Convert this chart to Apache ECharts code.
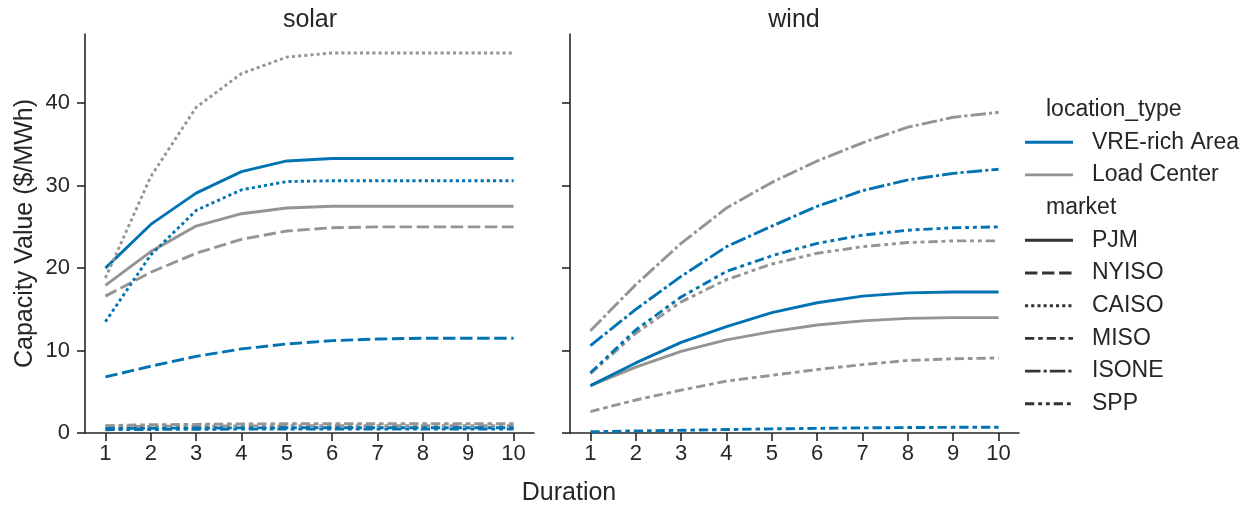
<!DOCTYPE html>
<html><head><meta charset="utf-8">
<script src="https://cdn.jsdelivr.net/npm/echarts@6/dist/echarts.min.js"></script>
<style>html,body{margin:0;padding:0;background:#fff}#c{width:1253px;height:508px}</style>
</head><body><div id="c"></div>
<script>
// ---- data ----
const durations = [1, 2, 3, 4, 5, 6, 7, 8, 9, 10];
const yTicks = [0, 10, 20, 30, 40];
const panels = ['solar', 'wind'];
const locationTypes = ['VRE-rich Area', 'Load Center'];
const markets = ['PJM', 'NYISO', 'CAISO', 'MISO', 'ISONE', 'SPP'];

// solar
const solarVrePJM   = [20.0, 25.3, 29.1, 31.7, 33.0, 33.3, 33.3, 33.3, 33.3, 33.3];
const solarLoadPJM  = [17.9, 22.0, 25.1, 26.6, 27.3, 27.5, 27.5, 27.5, 27.5, 27.5];
const solarVreNYISO = [6.8, 8.1, 9.3, 10.2, 10.8, 11.2, 11.4, 11.5, 11.5, 11.5];
const solarLoadNYISO= [16.6, 19.5, 21.8, 23.5, 24.5, 24.9, 25.0, 25.0, 25.0, 25.0];
const solarVreCAISO = [13.5, 21.6, 27.0, 29.5, 30.5, 30.6, 30.6, 30.6, 30.6, 30.6];
const solarLoadCAISO= [18.8, 31.1, 39.5, 43.6, 45.6, 46.1, 46.1, 46.1, 46.1, 46.1];
const solarVreMISO  = [0.55, 0.58, 0.6, 0.62, 0.63, 0.64, 0.64, 0.64, 0.64, 0.64];
const solarLoadMISO = [0.9, 1.0, 1.05, 1.1, 1.12, 1.13, 1.13, 1.13, 1.13, 1.13];
const solarVreSPP   = [0.4, 0.43, 0.45, 0.47, 0.48, 0.48, 0.48, 0.48, 0.48, 0.48];
const solarLoadSPP  = [0.75, 0.8, 0.84, 0.86, 0.87, 0.88, 0.88, 0.88, 0.88, 0.88];
// wind
const windVrePJM    = [5.75, 8.5, 11.0, 12.9, 14.6, 15.8, 16.6, 17.0, 17.1, 17.1];
const windLoadPJM   = [5.75, 8.0, 9.9, 11.3, 12.3, 13.1, 13.6, 13.9, 14.0, 14.0];
const windVreMISO   = [0.15, 0.25, 0.33, 0.42, 0.5, 0.56, 0.62, 0.66, 0.69, 0.7];
const windLoadMISO  = [2.6, 4.0, 5.2, 6.3, 7.0, 7.7, 8.3, 8.8, 9.0, 9.1];
const windVreISONE  = [10.6, 15.0, 19.0, 22.6, 25.1, 27.5, 29.4, 30.7, 31.5, 32.0];
const windLoadISONE = [12.4, 18.0, 23.0, 27.3, 30.4, 33.0, 35.2, 37.1, 38.3, 38.9];
const windVreSPP    = [7.3, 12.5, 16.5, 19.6, 21.5, 23.0, 24.0, 24.6, 24.9, 25.0];
const windLoadSPP   = [7.2, 12.1, 15.9, 18.6, 20.5, 21.8, 22.6, 23.1, 23.3, 23.3];

// ---- styling ----
const FONT = 'Liberation Sans, Arial, sans-serif';
const TXT = '#262626';
const colors = { 'VRE-rich Area': '#0173B2', 'Load Center': '#949494' };
const LW = 2.9, U = 3.1;
const dashUnits = {
  PJM: null,
  NYISO: [4, 1.5],
  CAISO: [1, 1],
  MISO: [3, 1.25, 1.5, 1.25],
  ISONE: [5, 1, 1, 1],
  SPP: [3, 1.25, 1.25, 1.25, 1.25, 1.25]
};
function dash(m) { return dashUnits[m] ? dashUnits[m].map(v => v * U) : 'solid'; }

const seriesDefs = [
  [0, 'Load Center', 'MISO', solarLoadMISO],
  [0, 'Load Center', 'SPP', solarLoadSPP],
  [0, 'VRE-rich Area', 'MISO', solarVreMISO],
  [0, 'VRE-rich Area', 'SPP', solarVreSPP],
  [0, 'VRE-rich Area', 'NYISO', solarVreNYISO],
  [0, 'Load Center', 'NYISO', solarLoadNYISO],
  [0, 'Load Center', 'PJM', solarLoadPJM],
  [0, 'VRE-rich Area', 'CAISO', solarVreCAISO],
  [0, 'VRE-rich Area', 'PJM', solarVrePJM],
  [0, 'Load Center', 'CAISO', solarLoadCAISO],
  [1, 'VRE-rich Area', 'MISO', windVreMISO],
  [1, 'Load Center', 'MISO', windLoadMISO],
  [1, 'Load Center', 'PJM', windLoadPJM],
  [1, 'VRE-rich Area', 'PJM', windVrePJM],
  [1, 'Load Center', 'SPP', windLoadSPP],
  [1, 'VRE-rich Area', 'SPP', windVreSPP],
  [1, 'VRE-rich Area', 'ISONE', windVreISONE],
  [1, 'Load Center', 'ISONE', windLoadISONE]
];

const series = seriesDefs.map(([p, loc, mkt, vals]) => ({
  type: 'line',
  name: panels[p] + ' ' + loc + ' ' + mkt,
  xAxisIndex: p, yAxisIndex: p,
  data: durations.map((d, i) => [d, vals[i]]),
  symbol: 'none',
  silent: true,
  lineStyle: { color: colors[loc], width: LW, type: dash(mkt), cap: 'butt' }
}));

const axisLineStyle = { color: TXT, width: 1.6 };
function xAxis(idx) {
  return {
    type: 'value', gridIndex: idx, min: 0.55, max: 10.45,
    axisLine: { show: true, lineStyle: axisLineStyle },
    axisTick: { show: true, length: 8, customValues: durations, lineStyle: axisLineStyle },
    axisLabel: { show: true, customValues: durations, fontSize: 22, color: TXT, fontFamily: FONT, margin: 10 },
    splitLine: { show: false }
  };
}
function yAxis(idx) {
  const a = {
    type: 'value', gridIndex: idx, min: 0, max: 48.4,
    axisLine: { show: true, lineStyle: axisLineStyle },
    axisTick: { show: true, length: 8, customValues: yTicks, lineStyle: axisLineStyle },
    axisLabel: { show: idx === 0, customValues: yTicks, fontSize: 22, color: TXT, fontFamily: FONT, margin: 15 },
    splitLine: { show: false }
  };
  if (idx === 0) {
    a.name = 'Capacity Value ($/MWh)';
    a.nameLocation = 'middle';
    a.nameGap = 47;
    a.nameTextStyle = { fontSize: 25, color: TXT, fontFamily: FONT };
  }
  return a;
}

// legend drawn as graphics
const legendRows = [
  { kind: 'title', text: 'location_type' },
  { kind: 'color', text: locationTypes[0] },
  { kind: 'color', text: locationTypes[1] },
  { kind: 'title', text: 'market' }
].concat(markets.map(m => ({ kind: 'style', text: m })));

const graphics = [];
legendRows.forEach((r, i) => {
  const y = 109.5 + i * 32.7;
  if (r.kind === 'title') {
    graphics.push({ type: 'text', x: 1046, y: y, style: { text: r.text, fontSize: 23, fontFamily: FONT, fill: TXT, verticalAlign: 'middle' } });
  } else {
    const stroke = r.kind === 'color' ? colors[r.text] : '#333333';
    const ld = r.kind === 'style' && dashUnits[r.text] ? dashUnits[r.text].map(v => v * U) : null;
    graphics.push({ type: 'line', shape: { x1: 1025, y1: y, x2: 1073, y2: y }, style: { stroke: stroke, lineWidth: LW, lineDash: ld, lineCap: 'butt' } });
    graphics.push({ type: 'text', x: 1092, y: y, style: { text: r.text, fontSize: 23, fontFamily: FONT, fill: TXT, verticalAlign: 'middle' } });
  }
});
graphics.push({ type: 'text', x: 310, y: 20, style: { text: panels[0], fontSize: 25, fontFamily: FONT, fill: TXT, align: 'center', verticalAlign: 'middle' } });
graphics.push({ type: 'text', x: 794, y: 20, style: { text: panels[1], fontSize: 25, fontFamily: FONT, fill: TXT, align: 'center', verticalAlign: 'middle' } });
graphics.push({ type: 'text', x: 569, y: 493, style: { text: 'Duration', fontSize: 25, fontFamily: FONT, fill: TXT, align: 'center', verticalAlign: 'middle' } });

const chart = echarts.init(document.getElementById('c'), null, { renderer: 'canvas' });
chart.setOption({
  animation: false,
  backgroundColor: '#ffffff',
  grid: [
    { left: 85, top: 34, width: 449, height: 399 },
    { left: 570, top: 34, width: 449, height: 399 }
  ],
  xAxis: [xAxis(0), xAxis(1)],
  yAxis: [yAxis(0), yAxis(1)],
  series: series,
  graphic: graphics
});
</script>
</body></html>
